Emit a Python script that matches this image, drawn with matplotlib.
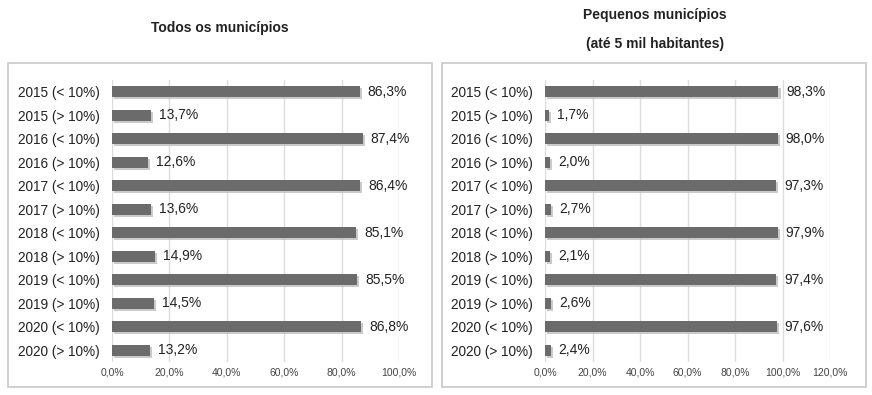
import matplotlib.pyplot as plt
import matplotlib.patheffects as pe
from matplotlib.patches import Rectangle

plt.rcParams['font.family'] = ['Liberation Sans', 'DejaVu Sans']

# categories, top to bottom
categorias = ['2015 (< 10%)', '2015 (> 10%)', '2016 (< 10%)', '2016 (> 10%)',
              '2017 (< 10%)', '2017 (> 10%)', '2018 (< 10%)', '2018 (> 10%)',
              '2019 (< 10%)', '2019 (> 10%)', '2020 (< 10%)', '2020 (> 10%)']

todos = [86.3, 13.7, 87.4, 12.6, 86.4, 13.6, 85.1, 14.9, 85.5, 14.5, 86.8, 13.2]
pequenos = [98.3, 1.7, 98.0, 2.0, 97.3, 2.7, 97.9, 2.1, 97.4, 2.6, 97.6, 2.4]

ticks_todos = [0, 20, 40, 60, 80, 100]
ticks_pequenos = [0, 20, 40, 60, 80, 100, 120]

bar_color = '#6b6b6b'
grid_color = '#dcdcdc'

fig = plt.figure(figsize=(8.72, 3.95), dpi=100)

# panel borders
for x0 in (8 / 872, 442 / 872):
    fig.patches.append(Rectangle((x0, 0.02), 424 / 872, 0.82, transform=fig.transFigure,
                                 fill=False, edgecolor='#c8c8c8', linewidth=1.2))


def painel(rect, valores, ticks, xmax):
    ax = fig.add_axes(rect)
    y = list(range(len(categorias)))
    bars = ax.barh(y, valores, height=0.48, color=bar_color, zorder=3)
    for b in bars:
        b.set_path_effects([pe.SimplePatchShadow(offset=(1.5, -1.5), shadow_rgbFace='#bdbdbd', alpha=0.8),
                            pe.Normal()])
    for yi, v in zip(y, valores):
        ax.annotate(f'{v:.1f}%'.replace('.', ','), (v, yi), xytext=(8, 0), textcoords='offset pixels',
                    va='center', ha='left', fontsize=10, color='#222222')
    ax.set_xlim(0, xmax)
    ax.set_ylim(len(categorias) - 0.5, -0.5)
    ax.set_yticks(y)
    ax.set_yticklabels(categorias, fontsize=9.8, color='#222222')
    ax.set_xticks(ticks)
    ax.set_xticklabels([f'{t:.1f}%'.replace('.', ',') for t in ticks], fontsize=7.5, color='#444444')
    ax.tick_params(length=0, pad=4)
    ax.tick_params(axis='y', pad=9)
    ax.grid(axis='x', color=grid_color, linewidth=1, zorder=0)
    for s in ax.spines.values():
        s.set_visible(False)
    ax.set_facecolor('none')
    return ax


painel([112 / 872, 1 - 362 / 395, 287 / 872, 282 / 395], todos, ticks_todos, 100)
painel([545 / 872, 1 - 362 / 395, 285 / 872, 282 / 395], pequenos, ticks_pequenos, 120)

fig.text(220 / 872, 1 - 28 / 395, 'Todos os municípios', ha='center', va='center',
         fontsize=10, fontweight='bold', color='#222222')
fig.text(655 / 872, 1 - 15 / 395, 'Pequenos municípios', ha='center', va='center',
         fontsize=10, fontweight='bold', color='#222222')
fig.text(655 / 872, 1 - 44 / 395, '(até 5 mil habitantes)', ha='center', va='center',
         fontsize=10, fontweight='bold', color='#222222')

fig.savefig('out.png', dpi=100)
